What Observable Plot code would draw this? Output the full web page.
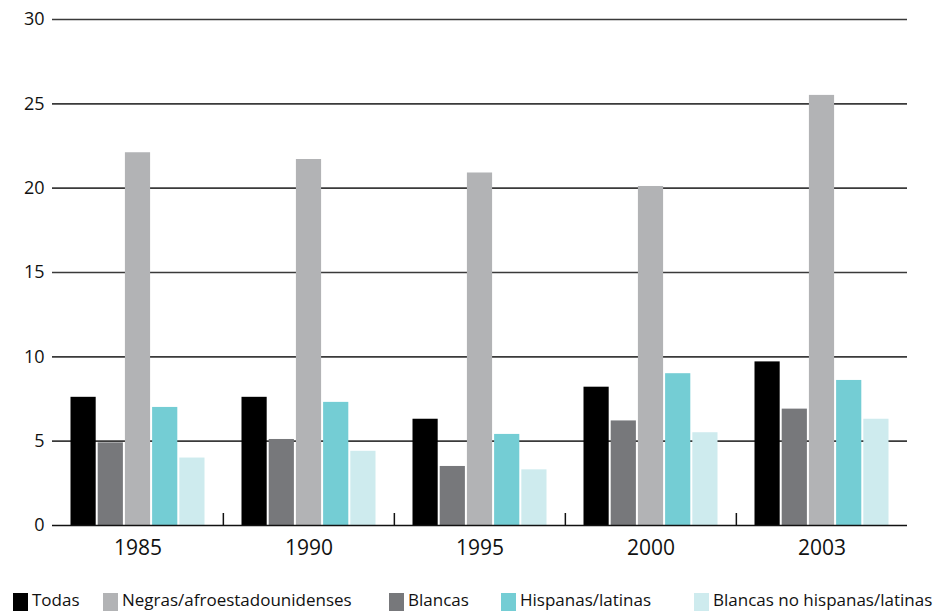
<!DOCTYPE html>
<html>
<head>
<meta charset="utf-8">
<script src="https://cdn.jsdelivr.net/npm/d3@7"></script>
<script src="https://cdn.jsdelivr.net/npm/@observablehq/plot@0.6"></script>
<style>
  html, body { margin: 0; padding: 0; background: #fff; overflow: hidden; }
  #chart svg { display: block; }
  #chart [aria-label^="fx-axis"] text { font-size: 21px; }
  #legend { display: block; }
</style>
</head>
<body>
<div id="chart"></div>
<svg id="legend" width="949" height="31"></svg>
<script>
// ---- data ----
const years = ["1985", "1990", "1995", "2000", "2003"];
const series = ["Todas", "Blancas", "Negras/afroestadounidenses", "Hispanas/latinas", "Blancas no hispanas/latinas"];
const legendOrder = ["Todas", "Negras/afroestadounidenses", "Blancas", "Hispanas/latinas", "Blancas no hispanas/latinas"];
const colors = ["#000000", "#77787b", "#b2b3b5", "#74cdd4", "#ceebee"];
const todas = [7.6, 7.6, 6.3, 8.2, 9.7];
const blancas = [4.9, 5.1, 3.5, 6.2, 6.9];
const negras = [22.1, 21.7, 20.9, 20.1, 25.5];
const hispanas = [7.0, 7.3, 5.4, 9.0, 8.6];
const blancasNoHisp = [4.0, 4.4, 3.3, 5.5, 6.3];
const yTicks = [0, 5, 10, 15, 20, 25, 30];

// ---- layout ----
const W = 949, H = 580;
const mL = 50, mR = 40, mT = 19, mB = 55;
const facetW = (W - mL - mR) / years.length;
const PI = 0.074, PO = 0.68;
const legendX = [13, 103, 389, 501, 694];

// offset from the centre of the first band to the facet's left edge
const step = facetW / (series.length - PI + 2 * PO);
const firstCenter = (facetW - step * (series.length - PI)) / 2 + step * (1 - PI) / 2;

const valuesBySeries = [todas, blancas, negras, hispanas, blancasNoHisp];
const data = [];
years.forEach((yr, i) => series.forEach((s, j) => data.push({year: yr, series: s, value: valuesBySeries[j][i]})));

const chart = Plot.plot({
  width: W, height: H,
  marginLeft: mL, marginRight: mR, marginTop: mT, marginBottom: mB,
  style: {fontFamily: "'Open Sans', sans-serif", fontSize: "18px", color: "#111", background: "#fff"},
  fx: {domain: years, padding: 0, axis: "bottom", tickSize: 0, tickPadding: 15, label: null},
  x: {domain: series, paddingInner: PI, paddingOuter: PO, round: false, axis: null},
  y: {domain: [0, 30], ticks: yTicks, tickSize: 0, tickPadding: 8, label: null},
  color: {domain: series, range: colors},
  marks: [
    Plot.ruleY(yTicks.filter(d => d > 0), {y: d => d, stroke: "#3a3a3a", strokeWidth: 1.6}),
    Plot.barY(data, {fx: "year", x: "series", y: "value", fill: "series"}),
    Plot.ruleY([0], {y: d => d, stroke: "#111", strokeWidth: 1.6}),
    Plot.ruleX(years.slice(1), {fx: d => d, x: () => series[0], y1: () => 0, y2: () => 0, insetBottom: 12, dx: -firstCenter, stroke: "#111", strokeWidth: 1.5})
  ]
});
document.getElementById("chart").appendChild(chart);

// ---- legend ----
const lg = d3.select("#legend");
const colorOf = s => colors[series.indexOf(s)];
legendOrder.forEach((s, i) => {
  lg.append("rect").attr("x", legendX[i]).attr("y", 13).attr("width", 15).attr("height", 18).attr("fill", colorOf(s));
  lg.append("text").attr("x", legendX[i] + 19).attr("y", 26)
    .attr("font-family", "'Open Sans', sans-serif").attr("font-size", 17).attr("fill", "#111")
    .text(s);
});
</script>
</body>
</html>
